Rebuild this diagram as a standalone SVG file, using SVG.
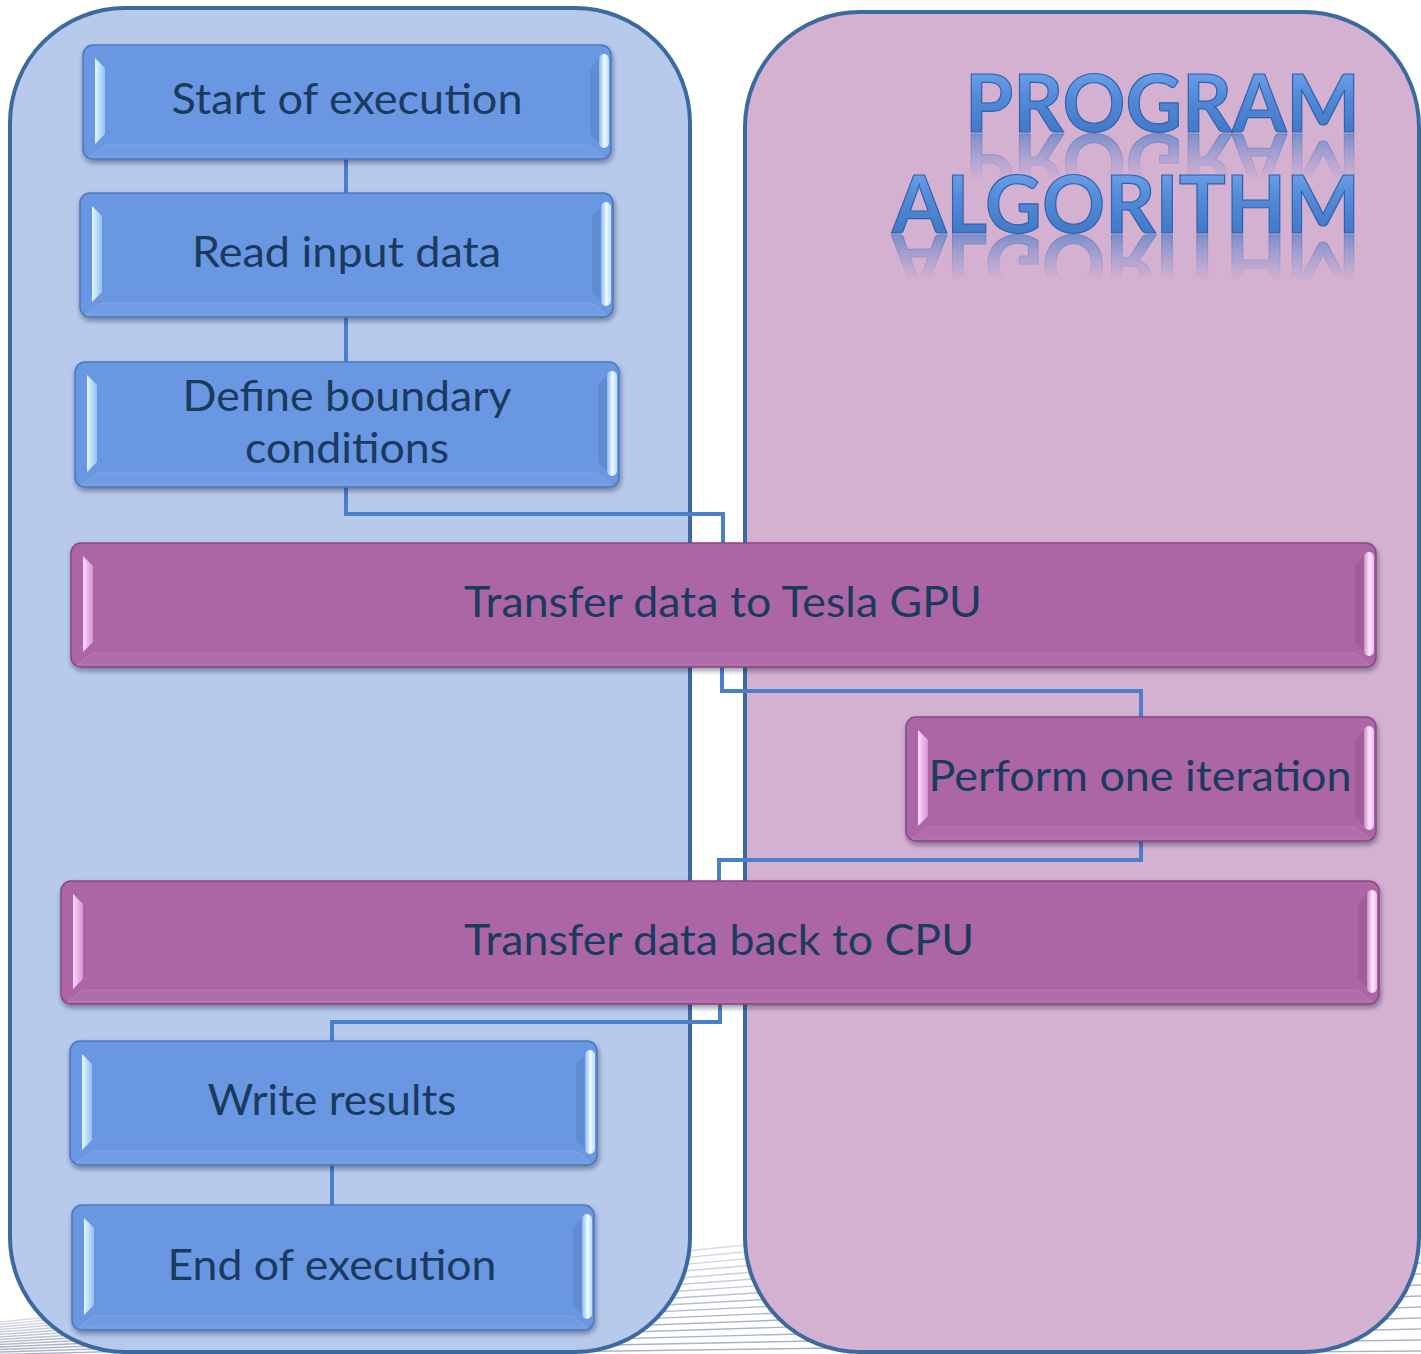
<svg xmlns="http://www.w3.org/2000/svg" width="1421" height="1354" viewBox="0 0 1421 1354">
  <defs>
    <style>
      .panel { stroke: #3c6a9f; stroke-width: 4; }
      .link { fill: none; stroke: #4a7fca; stroke-width: 4; stroke-linejoin: miter; }
      .bg-line { fill: none; stroke: #aab3c6; stroke-width: 1.4; }
      .blue .base { fill: #6a97e2; stroke: #4c78bf; stroke-width: 1.5; }
      .purple .base { fill: #ac66a5; stroke: #8a4785; stroke-width: 1.5; }
      .blue .lface { fill: url(#blueLeft); }
      .purple .lface { fill: url(#purpleLeft); }
      .blue .rbright { fill: url(#blueRight); }
      .purple .rbright { fill: url(#purpleRight); }
      .rdark { fill: #000; fill-opacity: 0.07; }
      .bface { fill: #fff; fill-opacity: 0.05; stroke: #fff; stroke-opacity: 0.12; stroke-width: 1; }
      .box { filter: url(#shadow); }
      .label { font-family: Lato, "Open Sans", "Liberation Sans", sans-serif; font-size: 42px; fill: #1a3a60; text-anchor: middle; }
      .title { font-family: Lato, "Liberation Sans", sans-serif; font-weight: 700; font-size: 80px; text-anchor: end; fill: url(#titleFill); stroke: #2f62ad; stroke-width: 1.2; }
    </style>
    <filter id="shadow" x="-5%" y="-10%" width="110%" height="130%">
      <feDropShadow dx="1" dy="3" stdDeviation="2.5" flood-color="#1e1e3c" flood-opacity="0.45"/>
    </filter>
    <linearGradient id="blueLeft" x1="0" y1="0" x2="1" y2="0">
      <stop offset="0" stop-color="#e4f7ff"/>
      <stop offset="1" stop-color="#93c1f3"/>
    </linearGradient>
    <linearGradient id="purpleLeft" x1="0" y1="0" x2="1" y2="0">
      <stop offset="0" stop-color="#ffd8ff"/>
      <stop offset="1" stop-color="#d793d3"/>
    </linearGradient>
    <linearGradient id="blueRight" x1="0" y1="0" x2="1" y2="0">
      <stop offset="0" stop-color="#8db7ee"/>
      <stop offset="0.55" stop-color="#eefaff"/>
      <stop offset="1" stop-color="#b8dbfb"/>
    </linearGradient>
    <linearGradient id="purpleRight" x1="0" y1="0" x2="1" y2="0">
      <stop offset="0" stop-color="#cc8bc8"/>
      <stop offset="0.55" stop-color="#ffe6ff"/>
      <stop offset="1" stop-color="#efb6ec"/>
    </linearGradient>
    <linearGradient id="titleFill" x1="0" y1="0" x2="0" y2="1">
      <stop offset="0" stop-color="#7eaef2"/>
      <stop offset="0.45" stop-color="#538bd9"/>
      <stop offset="1" stop-color="#3a70bf"/>
    </linearGradient>
    <linearGradient id="fade1" gradientUnits="userSpaceOnUse" x1="0" y1="134" x2="0" y2="180">
      <stop offset="0" stop-color="#fff" stop-opacity="0.6"/>
      <stop offset="1" stop-color="#fff" stop-opacity="0"/>
    </linearGradient>
    <linearGradient id="fade2" gradientUnits="userSpaceOnUse" x1="0" y1="235" x2="0" y2="281">
      <stop offset="0" stop-color="#fff" stop-opacity="0.6"/>
      <stop offset="1" stop-color="#fff" stop-opacity="0"/>
    </linearGradient>
    <mask id="reflect1" maskUnits="userSpaceOnUse" x="850" y="130" width="571" height="60">
      <rect x="850" y="130" width="571" height="60" fill="url(#fade1)"/>
    </mask>
    <mask id="reflect2" maskUnits="userSpaceOnUse" x="850" y="231" width="571" height="60">
      <rect x="850" y="231" width="571" height="60" fill="url(#fade2)"/>
    </mask>
    <clipPath id="lowBand">
      <rect x="0" y="1242" width="1421" height="112"/>
    </clipPath>
  </defs>

  <!-- page background with the striped wave at the bottom -->
  <rect width="1421" height="1354" fill="#fff"/>
  <g clip-path="url(#lowBand)">
    <path class="bg-line" stroke-opacity="0.45" d="M0 1322 L1421 1175"/>
    <path class="bg-line" stroke-opacity="0.5" d="M0 1324.5 L1421 1186"/>
    <path class="bg-line" stroke-opacity="0.55" d="M0 1327 L1421 1197"/>
    <path class="bg-line" stroke-opacity="0.6" d="M0 1329.5 L1421 1208"/>
    <path class="bg-line" stroke-opacity="0.65" d="M0 1332 L1421 1219"/>
    <path class="bg-line" stroke-opacity="0.7" d="M0 1334.5 L1421 1230"/>
    <path class="bg-line" stroke-opacity="0.75" d="M0 1337 L1421 1241"/>
    <path class="bg-line" stroke-opacity="0.8" d="M0 1339.5 L1421 1252"/>
    <path class="bg-line" stroke-opacity="0.85" d="M0 1342 L1421 1263"/>
    <path class="bg-line" stroke-opacity="0.9" d="M0 1344.5 L1421 1274"/>
    <path class="bg-line" d="M0 1347 L1421 1285"/>
    <path class="bg-line" d="M0 1349.5 L1421 1296"/>
    <path class="bg-line" d="M0 1352 L1421 1307"/>
    <path class="bg-line" d="M0 1354.5 L1421 1318"/>
    <path class="bg-line" d="M0 1357 L1421 1329"/>
    <path class="bg-line" d="M0 1359.5 L1421 1340"/>
    <path class="bg-line" d="M0 1362 L1421 1351"/>
  </g>

  <!-- CPU and GPU swim lanes -->
  <rect id="lane-cpu" class="panel" x="10" y="8" width="680" height="1344" rx="115" fill="#b7caec"/>
  <rect id="lane-gpu" class="panel" x="745" y="12" width="674" height="1340" rx="115" fill="#d4b0d1"/>

  <!-- heading with mirrored reflection -->
  <g id="title">
    <text class="title" x="1360" y="132" textLength="395" lengthAdjust="spacingAndGlyphs">PROGRAM</text>
    <text class="title" x="1360" y="233" textLength="468" lengthAdjust="spacingAndGlyphs">ALGORITHM</text>
    <g mask="url(#reflect1)">
      <text class="title" x="1360" y="132" textLength="395" lengthAdjust="spacingAndGlyphs" transform="translate(0,266) scale(1,-1)" stroke="none">PROGRAM</text>
    </g>
    <g mask="url(#reflect2)">
      <text class="title" x="1360" y="233" textLength="468" lengthAdjust="spacingAndGlyphs" transform="translate(0,468) scale(1,-1)" stroke="none">ALGORITHM</text>
    </g>
  </g>

  <!-- connectors -->
  <g id="connectors">
    <path class="link" d="M346 159 V193"/>
    <path class="link" d="M346 317 V362"/>
    <path class="link" d="M346 487 V514 H723 V543"/>
    <path class="link" d="M722 667 V691 H1141 V717"/>
    <path class="link" d="M1141 841 V860 H719 V881"/>
    <path class="link" d="M720 1004 V1022 H332 V1041"/>
    <path class="link" d="M332 1165 V1205"/>
  </g>

  <!-- process steps -->
  <g id="start" class="blue" transform="translate(83,45)">
    <rect class="base box" width="528" height="114" rx="10"/>
    <polygon class="bface" points="22,100 507,100 522,112 6,112"/>
    <polygon class="lface" points="12,13 22,23 22,89 12,99"/>
    <polygon class="rdark" points="507,23 516,13 516,99 507,89"/>
    <rect class="rbright" x="516" y="9" width="10" height="94" rx="5"/>
    <text class="label" x="264" y="69" textLength="351" lengthAdjust="spacingAndGlyphs">Start of execution</text>
  </g>

  <g id="read" class="blue" transform="translate(80,193)">
    <rect class="base box" width="533" height="124" rx="10"/>
    <polygon class="bface" points="22,110 512,110 527,122 6,122"/>
    <polygon class="lface" points="12,13 22,23 22,99 12,109"/>
    <polygon class="rdark" points="512,23 521,13 521,109 512,99"/>
    <rect class="rbright" x="521" y="9" width="10" height="104" rx="5"/>
    <text class="label" x="266.5" y="74" textLength="309" lengthAdjust="spacingAndGlyphs">Read input data</text>
  </g>

  <g id="boundary" class="blue" transform="translate(75,362)">
    <rect class="base box" width="544" height="125" rx="10"/>
    <polygon class="bface" points="22,111 523,111 538,123 6,123"/>
    <polygon class="lface" points="12,13 22,23 22,100 12,110"/>
    <polygon class="rdark" points="523,23 532,13 532,110 523,100"/>
    <rect class="rbright" x="532" y="9" width="10" height="105" rx="5"/>
    <text class="label" x="272" y="49" textLength="329" lengthAdjust="spacingAndGlyphs">Define boundary</text>
    <text class="label" x="272" y="101" textLength="204" lengthAdjust="spacingAndGlyphs">conditions</text>
  </g>

  <g id="to-gpu" class="purple" transform="translate(71,543)">
    <rect class="base box" width="1305" height="124" rx="10"/>
    <polygon class="bface" points="22,110 1284,110 1299,122 6,122"/>
    <polygon class="lface" points="12,13 22,23 22,99 12,109"/>
    <polygon class="rdark" points="1284,23 1293,13 1293,109 1284,99"/>
    <rect class="rbright" x="1293" y="9" width="10" height="104" rx="5"/>
    <text class="label" x="652" y="74" textLength="518" lengthAdjust="spacingAndGlyphs">Transfer data to Tesla GPU</text>
  </g>

  <g id="iterate" class="purple" transform="translate(906,717)">
    <rect class="base box" width="470" height="124" rx="10"/>
    <polygon class="bface" points="22,110 449,110 464,122 6,122"/>
    <polygon class="lface" points="12,13 22,23 22,99 12,109"/>
    <polygon class="rdark" points="449,23 458,13 458,109 449,99"/>
    <rect class="rbright" x="458" y="9" width="10" height="104" rx="5"/>
    <text class="label" x="234" y="74" textLength="423" lengthAdjust="spacingAndGlyphs">Perform one iteration</text>
  </g>

  <g id="to-cpu" class="purple" transform="translate(61,881)">
    <rect class="base box" width="1318" height="123" rx="10"/>
    <polygon class="bface" points="22,109 1297,109 1312,121 6,121"/>
    <polygon class="lface" points="12,13 22,23 22,98 12,108"/>
    <polygon class="rdark" points="1297,23 1306,13 1306,108 1297,98"/>
    <rect class="rbright" x="1306" y="9" width="10" height="103" rx="5"/>
    <text class="label" x="658" y="74" textLength="510" lengthAdjust="spacingAndGlyphs">Transfer data back to CPU</text>
  </g>

  <g id="write" class="blue" transform="translate(70,1041)">
    <rect class="base box" width="527" height="124" rx="10"/>
    <polygon class="bface" points="22,110 506,110 521,122 6,122"/>
    <polygon class="lface" points="12,13 22,23 22,99 12,109"/>
    <polygon class="rdark" points="506,23 515,13 515,109 506,99"/>
    <rect class="rbright" x="515" y="9" width="10" height="104" rx="5"/>
    <text class="label" x="262" y="74" textLength="249" lengthAdjust="spacingAndGlyphs">Write results</text>
  </g>

  <g id="end" class="blue" transform="translate(72,1205)">
    <rect class="base box" width="522" height="125" rx="10"/>
    <polygon class="bface" points="22,111 501,111 516,123 6,123"/>
    <polygon class="lface" points="12,13 22,23 22,100 12,110"/>
    <polygon class="rdark" points="501,23 510,13 510,110 501,100"/>
    <rect class="rbright" x="510" y="9" width="10" height="105" rx="5"/>
    <text class="label" x="260" y="75" textLength="329" lengthAdjust="spacingAndGlyphs">End of execution</text>
  </g>
</svg>
